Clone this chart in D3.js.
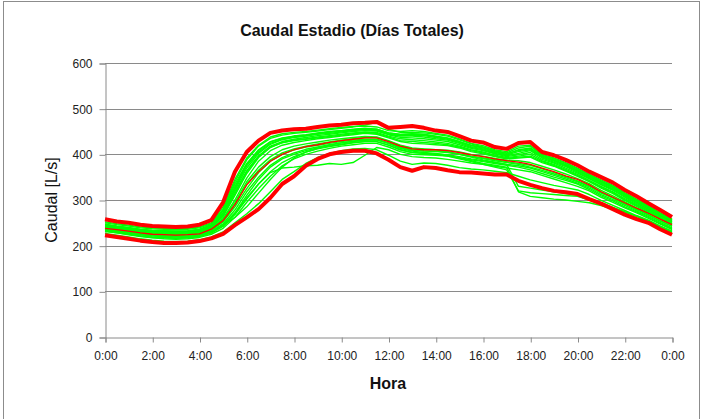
<!DOCTYPE html>
<html>
<head>
<meta charset="utf-8">
<script src="https://cdn.jsdelivr.net/npm/d3@7"></script>
<style>
  html, body { margin: 0; padding: 0; background: #fff; }
  svg { display: block; font-family: "Liberation Sans", Arial, sans-serif; }
</style>
</head>
<body>
<svg id="chart" width="702" height="419"></svg>
<script>
// Half-hour sampling, 0:00 to 24:00
const hours = d3.range(0, 24.01, 0.5);

// Upper envelope (thick red)
const upper = [258,253,250,246,243,242,241,242,246,256,295,362,405,430,447,452,455,456,460,463,465,468,469,471,458,460,462,458,452,449,440,430,426,416,412,425,427,405,398,388,376,362,350,338,322,308,293,278,263];
// Lower envelope (thick red)
const lower = [223,219,215,211,208,206,206,207,210,216,226,245,262,280,305,335,352,375,390,400,405,408,408,402,388,372,364,372,370,365,361,360,358,356,356,342,333,326,320,317,313,302,292,280,268,258,250,236,224];
// Average day (thin red)
const average = [238,235,232,228,225,224,223,224,226,236,255,290,333,362,385,400,410,417,421,426,430,433,436,436,428,418,412,410,410,408,404,399,395,390,386,383,378,370,362,353,345,333,318,306,294,282,271,258,246];

// Individual days (green)
const days = [
  [252,248,245,241,239,238,237,238,241,250,285,345,392,420,438,445,448,450,453,456,459,461,462,460,452,450,452,450,446,442,434,424,419,410,406,418,420,400,392,382,370,356,344,332,316,302,288,272,258],
  [247,243,240,236,234,233,232,233,236,246,278,335,380,410,428,436,440,443,447,450,452,455,457,455,447,444,445,444,440,436,428,419,414,406,400,410,414,396,387,377,365,352,339,327,312,298,284,269,255],
  [244,240,237,233,231,230,229,230,233,243,270,322,370,402,422,432,437,440,444,446,449,452,454,452,444,440,440,438,434,431,424,415,410,402,397,402,408,392,383,373,361,348,335,323,308,294,280,266,252],
  [241,237,234,230,228,227,226,227,230,240,264,310,358,393,415,426,431,434,438,441,444,447,449,448,440,434,432,430,427,424,418,410,405,398,393,396,400,386,378,367,356,343,330,318,303,290,277,262,249],
  [240,236,233,229,227,226,225,226,229,238,260,300,348,385,408,420,426,430,434,437,440,443,446,444,436,428,424,423,421,419,414,406,401,395,390,392,394,382,374,363,352,340,326,314,299,286,273,260,247],
  [238,235,231,228,225,224,223,224,226,235,254,290,335,365,388,403,412,418,423,427,431,434,437,437,429,419,413,411,410,409,405,400,396,391,387,386,382,374,366,357,347,336,321,309,296,283,271,258,246],
  [235,232,229,225,222,221,220,221,223,231,248,278,318,350,376,393,403,411,416,421,425,428,431,432,424,415,409,407,406,404,400,395,391,386,382,378,372,365,357,349,340,329,315,304,291,279,267,254,242],
  [231,228,224,220,217,215,214,215,218,225,238,262,295,325,352,375,390,400,407,413,418,421,424,424,416,406,400,399,398,396,392,388,384,380,376,372,366,358,350,343,335,323,309,298,285,274,262,249,237],
  [227,223,219,215,212,210,209,210,213,219,230,250,270,292,318,345,362,380,393,402,408,412,413,410,398,385,378,381,380,376,371,368,366,363,360,352,344,338,332,327,322,312,299,288,277,266,256,243,230],
  [232,228,225,221,218,217,216,217,220,228,244,270,305,335,360,370,372,375,376,380,378,382,398,415,410,400,395,393,392,389,385,381,378,374,370,366,362,354,346,338,330,320,306,295,283,272,260,247,235],
  [236,233,229,226,223,222,221,222,225,233,252,285,325,360,385,400,410,416,420,424,428,431,433,432,424,413,407,404,402,398,392,386,380,376,372,318,308,305,302,300,297,294,288,280,270,260,252,240,228],
  [239,236,232,229,226,225,224,225,228,237,258,295,340,372,395,410,418,423,427,431,434,437,439,438,430,420,414,412,410,406,400,394,388,383,378,330,326,322,318,314,310,302,294,284,274,264,254,242,231],
  [234,231,227,224,221,220,219,220,222,230,246,272,310,345,372,390,400,408,414,418,422,426,428,428,420,410,404,402,400,396,390,384,378,372,366,320,316,314,312,310,308,300,292,283,274,264,255,243,232],
  [250,246,243,239,237,236,235,236,239,248,280,340,388,418,435,442,446,448,451,454,457,460,464,470,455,448,448,447,444,440,432,423,416,408,403,414,418,398,390,380,368,355,342,330,314,300,286,271,257],
  [243,239,236,232,230,229,228,229,232,242,268,318,364,397,418,428,433,437,441,444,447,450,452,451,443,437,436,434,431,428,421,413,408,401,395,399,404,389,381,370,359,346,333,321,306,292,279,264,251],
  [242,238,235,231,229,228,227,228,231,241,266,314,362,395,416,425,430,433,436,439,442,445,447,446,438,430,428,426,424,421,416,408,403,396,391,394,396,384,376,365,354,341,328,316,301,288,275,261,248],
  [245,241,238,234,232,231,230,231,234,244,272,326,375,405,424,433,438,441,445,448,451,453,455,453,445,441,442,441,437,433,426,417,412,404,399,406,410,394,385,375,363,350,337,325,310,296,282,267,253],
  [233,230,226,222,219,218,217,218,221,228,242,268,302,335,362,382,395,405,412,417,421,425,428,428,420,410,404,402,401,399,395,390,386,382,378,375,370,362,354,346,337,326,312,301,288,276,264,251,239],
  [237,234,230,227,224,223,222,223,225,232,245,262,285,315,345,372,392,405,413,420,425,429,432,433,425,416,410,408,407,405,401,396,392,388,384,380,376,368,360,351,342,331,317,305,292,280,268,255,243],
  [246,242,239,235,233,232,231,232,235,245,276,330,378,408,427,435,440,442,446,449,452,454,456,455,447,443,444,443,439,435,428,420,415,407,402,408,412,396,388,378,366,353,340,328,313,299,285,270,256]
];

const xTicks = d3.range(0, 25, 2);
const yTicks = [0, 100, 200, 300, 400, 500, 600];

const svg = d3.select("#chart");
const plotLeft = 105, plotRight = 672, plotTop = 63, plotBottom = 337;

// Chart frame
svg.append("rect")
  .attr("x", 3.5).attr("y", 1.5)
  .attr("width", 696).attr("height", 418)
  .attr("fill", "#fff").attr("stroke", "#8c8c8c").attr("stroke-width", 1);

const x = d3.scaleLinear().domain([0, 24]).range([plotLeft, plotRight]);
const y = d3.scaleLinear().domain([0, 600]).range([plotBottom, plotTop]);

// Horizontal gridlines
svg.append("g")
  .selectAll("line")
  .data(yTicks.filter(v => v > 0))
  .join("line")
  .attr("x1", plotLeft).attr("x2", plotRight)
  .attr("y1", d => Math.round(y(d)) + 0.5)
  .attr("y2", d => Math.round(y(d)) + 0.5)
  .attr("stroke", "#8a8a8a").attr("stroke-width", 1);

// Y axis
const yAxis = svg.append("g")
  .attr("transform", `translate(${plotLeft + 0.5},0.5)`)
  .call(d3.axisLeft(y).tickValues(yTicks).tickSize(6).tickPadding(7));
yAxis.select(".domain").attr("stroke", "#8a8a8a");
yAxis.selectAll(".tick line").attr("stroke", "#8a8a8a");
yAxis.selectAll(".tick text")
  .attr("fill", "#222").style("font-size", "12px")
  .style("font-family", "'Liberation Sans', Arial, sans-serif");

// X axis
const xAxis = svg.append("g")
  .attr("transform", `translate(0.5,${Math.round(plotBottom) + 0.5})`)
  .call(d3.axisBottom(x).tickValues(xTicks).tickSize(5).tickPadding(9)
    .tickFormat(d => (d % 24) + ":00"));
xAxis.select(".domain").attr("stroke", "#8a8a8a");
xAxis.selectAll(".tick line").attr("stroke", "#8a8a8a");
xAxis.selectAll(".tick text")
  .attr("fill", "#222").style("font-size", "12px")
  .style("font-family", "'Liberation Sans', Arial, sans-serif");

const line = d3.line()
  .x((d, i) => x(hours[i]))
  .y(d => y(d));

// Daily flows
svg.append("g")
  .selectAll("path")
  .data(days)
  .join("path")
  .attr("d", line)
  .attr("fill", "none")
  .attr("stroke", "#00ff00")
  .attr("stroke-width", 1.4)
  .attr("stroke-linejoin", "round");

// Average and envelopes
svg.append("path").attr("d", line(average))
  .attr("fill", "none").attr("stroke", "#ff0000").attr("stroke-width", 1.3);
[upper, lower].forEach(s => {
  svg.append("path").attr("d", line(s))
    .attr("fill", "none").attr("stroke", "#ff0000").attr("stroke-width", 4)
    .attr("stroke-linejoin", "round");
});

// Titles
svg.append("text")
  .attr("x", 352).attr("y", 36)
  .attr("text-anchor", "middle")
  .style("font-size", "16px").style("font-weight", "bold")
  .attr("fill", "#111")
  .text("Caudal Estadio (Días Totales)");

svg.append("text")
  .attr("transform", "translate(57,200) rotate(-90)")
  .attr("text-anchor", "middle")
  .style("font-size", "16px")
  .attr("fill", "#111")
  .text("Caudal [L/s]");

svg.append("text")
  .attr("x", 388).attr("y", 389)
  .attr("text-anchor", "middle")
  .style("font-size", "16px").style("font-weight", "bold")
  .attr("fill", "#111")
  .text("Hora");
</script>
</body>
</html>
